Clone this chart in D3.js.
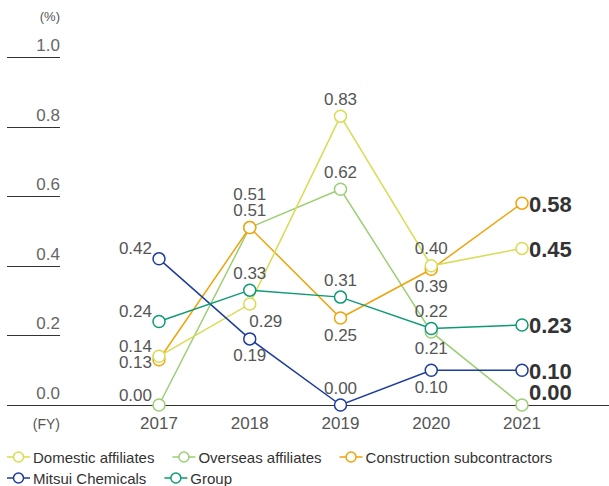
<!DOCTYPE html>
<html>
<head>
<meta charset="utf-8">
<script src="https://cdn.jsdelivr.net/npm/d3@7"></script>
<style>
  body { margin: 0; background: #fff; }
  svg { display: block; font-family: "Liberation Sans", Arial, sans-serif; }
</style>
</head>
<body>
<svg id="chart"></svg>
<script>
  var years = ["2017", "2018", "2019", "2020", "2021"];
  var yTicks = [0, 0.2, 0.4, 0.6, 0.8, 1.0];

  var domestic = [0.14, 0.29, 0.83, 0.40, 0.45];
  var overseas = [0.00, 0.51, 0.62, 0.21, 0.00];
  var construction = [0.13, 0.51, 0.25, 0.39, 0.58];
  var mitsui = [0.42, 0.19, 0.00, 0.10, 0.10];
  var group = [0.24, 0.33, 0.31, 0.22, 0.23];

  // where each value label sits: L = left, A = above, A2 = above (second line), B = below,
  // BR = below right, R = bold at the end, RU = bold at the end, lifted
  var series = [
    {name: "Overseas affiliates", values: overseas, color: "#9ccf75",
     pos: ["L", "A", "A", "B", "RU"]},
    {name: "Construction subcontractors", values: construction, color: "#f0a30a",
     pos: ["L2", "A2", "B", "B", "R"]},
    {name: "Domestic affiliates", values: domestic, color: "#d8dc52",
     pos: ["L", "BR", "A", "A", "R"]},
    {name: "Mitsui Chemicals", values: mitsui, color: "#1d3c9c",
     pos: ["L", "B", "A", "B", "R"]},
    {name: "Group", values: group, color: "#0e9a74",
     pos: ["L", "A", "A", "A", "R"]}
  ];
  var legendOrder = ["Domestic affiliates", "Overseas affiliates", "Construction subcontractors", "Mitsui Chemicals", "Group"];

  var width = 609, height = 486;
  var svg = d3.select("#chart").attr("width", width).attr("height", height);

  var x = d3.scalePoint().domain(years).range([159, 522]);
  var y = d3.scaleLinear().domain([0, 1]).range([405, 57]);

  // y ticks: short rules with labels above them
  var ty = svg.append("g");
  ty.selectAll("line").data(yTicks.filter(function(d) { return d > 0; })).enter().append("line")
    .attr("x1", 7).attr("x2", 60)
    .attr("y1", function(d) { return Math.round(y(d)) + 0.5; })
    .attr("y2", function(d) { return Math.round(y(d)) + 0.5; })
    .attr("stroke", "#333").attr("stroke-width", 1);
  ty.selectAll("text").data(yTicks).enter().append("text")
    .attr("x", 60).attr("y", function(d) { return y(d) - 6; })
    .attr("text-anchor", "end").attr("font-size", 17).attr("fill", "#666")
    .text(function(d) { return d.toFixed(1); });

  svg.append("text").attr("x", 60).attr("y", 21).attr("text-anchor", "end")
    .attr("font-size", 13).attr("fill", "#555").text("(%)");

  // x axis
  svg.append("line").attr("x1", 7).attr("x2", 609).attr("y1", 405.5).attr("y2", 405.5)
    .attr("stroke", "#333").attr("stroke-width", 1);
  svg.append("g").selectAll("text").data(years).enter().append("text")
    .attr("x", function(d) { return x(d); }).attr("y", 429)
    .attr("text-anchor", "middle").attr("font-size", 17).attr("fill", "#555")
    .text(function(d) { return d; });
  svg.append("text").attr("x", 60).attr("y", 429).attr("text-anchor", "end")
    .attr("font-size", 14).attr("fill", "#555").text("(FY)");

  var line = d3.line()
    .x(function(d, i) { return x(years[i]); })
    .y(function(d) { return y(d); });

  series.forEach(function(s) {
    var g = svg.append("g");
    g.append("path").datum(s.values).attr("d", line)
      .attr("fill", "none").attr("stroke", s.color).attr("stroke-width", 1.5);
    g.selectAll("circle").data(s.values).enter().append("circle")
      .attr("cx", function(d, i) { return x(years[i]); })
      .attr("cy", function(d) { return y(d); })
      .attr("r", 6).attr("fill", "#fff").attr("stroke", s.color).attr("stroke-width", 1.5);
  });

  // value labels on top
  var lab = svg.append("g");
  series.forEach(function(s) {
    s.values.forEach(function(v, i) {
      var px = x(years[i]), py = y(v), p = s.pos[i];
      var t = lab.append("text").attr("font-size", 17).attr("fill", "#555")
        .attr("dominant-baseline", "central").text(v.toFixed(2));
      if (p === "L") t.attr("x", px - 7).attr("y", py - 10).attr("text-anchor", "end");
      else if (p === "L2") t.attr("x", px - 7).attr("y", py + 3).attr("text-anchor", "end");
      else if (p === "A") t.attr("x", px).attr("y", py - 17).attr("text-anchor", "middle");
      else if (p === "A2") t.attr("x", px).attr("y", py - 33).attr("text-anchor", "middle");
      else if (p === "B") t.attr("x", px).attr("y", py + 17).attr("text-anchor", "middle");
      else if (p === "BR") t.attr("x", px + 16).attr("y", py + 17).attr("text-anchor", "middle");
      else if (p === "R" || p === "RU") t.attr("x", px + 7).attr("y", p === "RU" ? py - 13 : py + 1)
        .attr("text-anchor", "start")
        .attr("font-size", 22).attr("font-weight", "bold").attr("fill", "#333");
    });
  });

  // legend, flowing in rows
  var leg = svg.append("g");
  var lx = 7, ly = 457;
  legendOrder.forEach(function(name) {
    var s = series.find(function(d) { return d.name === name; });
    var item = leg.append("g");
    item.append("line").attr("x1", 0).attr("x2", 23).attr("y1", 0).attr("y2", 0)
      .attr("stroke", s.color).attr("stroke-width", 1.5);
    item.append("circle").attr("cx", 11.5).attr("cy", 0).attr("r", 5)
      .attr("fill", "#fff").attr("stroke", s.color).attr("stroke-width", 1.5);
    var t = item.append("text").attr("x", 26).attr("y", 0).attr("dominant-baseline", "central")
      .attr("font-size", 15).attr("fill", "#333").text(name);
    var w = 26 + t.node().getComputedTextLength();
    if (lx + w > width) { lx = 7; ly += 21; }
    item.attr("transform", "translate(" + lx + "," + ly + ")");
    lx += w + 18;
  });
</script>
</body>
</html>
